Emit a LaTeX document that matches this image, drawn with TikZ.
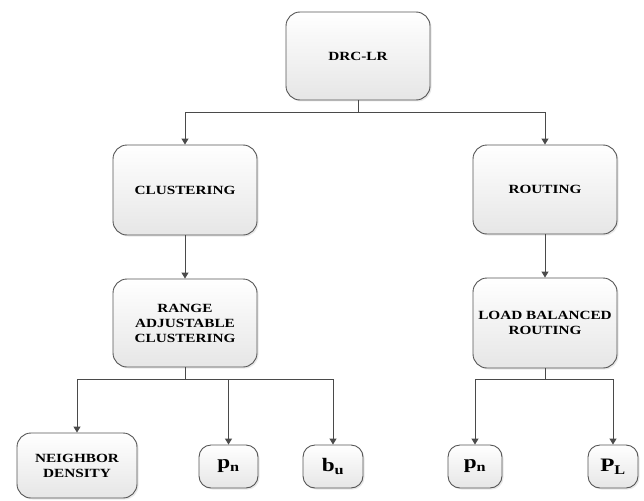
\documentclass[tikz,border=0pt]{standalone}
\usepackage{fontspec}
\setmainfont{Liberation Serif}[FakeStretch=1.22]
\usepackage{xcolor}
\usetikzlibrary{arrows.meta, positioning, shadows}
\definecolor{drcLine}{HTML}{4A4A4A}
\definecolor{drcEdge}{HTML}{555555}
\definecolor{drcShade}{HTML}{E6E6E6}
\tikzset{
  drc/box/.style    = {rounded corners=14pt, draw=drcEdge, line width=0.9pt,
                       top color=white, bottom color=drcShade, align=center,
                       font=\bfseries\fontsize{12.5}{15}\selectfont, inner sep=2pt,
                       drop shadow={shadow xshift=1.5pt, shadow yshift=-1.5pt, opacity=0.18}},
  drc/leaf/.style   = {drc/box, rounded corners=12pt, minimum height=43pt,
                       font=\bfseries\fontsize{19}{22}\selectfont},
  drc/line/.style   = {draw=drcLine, line width=1pt},
  drc/arrow/.style  = {drc/line, -{Triangle[length=6pt, width=7pt]}},
}
\begin{document}
\begin{tikzpicture}[x=1pt, y=-1pt]
      \useasboundingbox (0,0) rectangle (644,500);
      % root
      \node[drc/box, minimum width=144pt, minimum height=88pt] (drc) at (358,56) {DRC-LR};
      % second level
      \node[drc/box, minimum width=144pt, minimum height=90pt] (clus) at (185,190) {CLUSTERING};
      \node[drc/box, minimum width=144pt, minimum height=89pt] (rout) at (545,189.5) {ROUTING};
      % third level
      \node[drc/box, minimum width=144pt, minimum height=88pt] (range) at (185,323)
            {RANGE\\ADJUSTABLE\\CLUSTERING};
      \node[drc/box, minimum width=144pt, minimum height=90pt] (lbr) at (545,323)
            {LOAD BALANCED\\ROUTING};
      % leaves
      \node[drc/box, minimum width=120pt, minimum height=65pt] (nd) at (77,465.5)
            {NEIGHBOR\\DENSITY};
      \node[drc/leaf, minimum width=59pt] (pn1) at (228.5,466.5) {p\textsubscript{n}};
      \node[drc/leaf, minimum width=60pt] (bu) at (333,466.5) {b\textsubscript{u}};
      \node[drc/leaf, minimum width=54pt] (pn2) at (475,466.5) {p\textsubscript{n}};
      \node[drc/leaf, minimum width=50pt] (pl) at (613,466.5) {P\textsubscript{L}};
      % bus points
      \coordinate (bus1) at (358,112);
      \coordinate (bus2) at (185,379);
      \coordinate (bus3) at (545,379);
      % connections
      \draw[drc/line]  (drc.south) -- (bus1);
      \draw[drc/arrow] (bus1) -| (clus.north);
      \draw[drc/arrow] (bus1) -| (rout.north);
      \draw[drc/arrow] (clus) -- (range);
      \draw[drc/arrow] (rout) -- (lbr);
      \draw[drc/line]  (range.south) -- (bus2);
      \draw[drc/arrow] (bus2) -| (nd.north);
      \draw[drc/arrow] (bus2) -| (pn1.north);
      \draw[drc/arrow] (bus2) -| (bu.north);
      \draw[drc/line]  (lbr.south) -- (bus3);
      \draw[drc/arrow] (bus3) -| (pn2.north);
      \draw[drc/arrow] (bus3) -| (pl.north);
\end{tikzpicture}
\end{document}
